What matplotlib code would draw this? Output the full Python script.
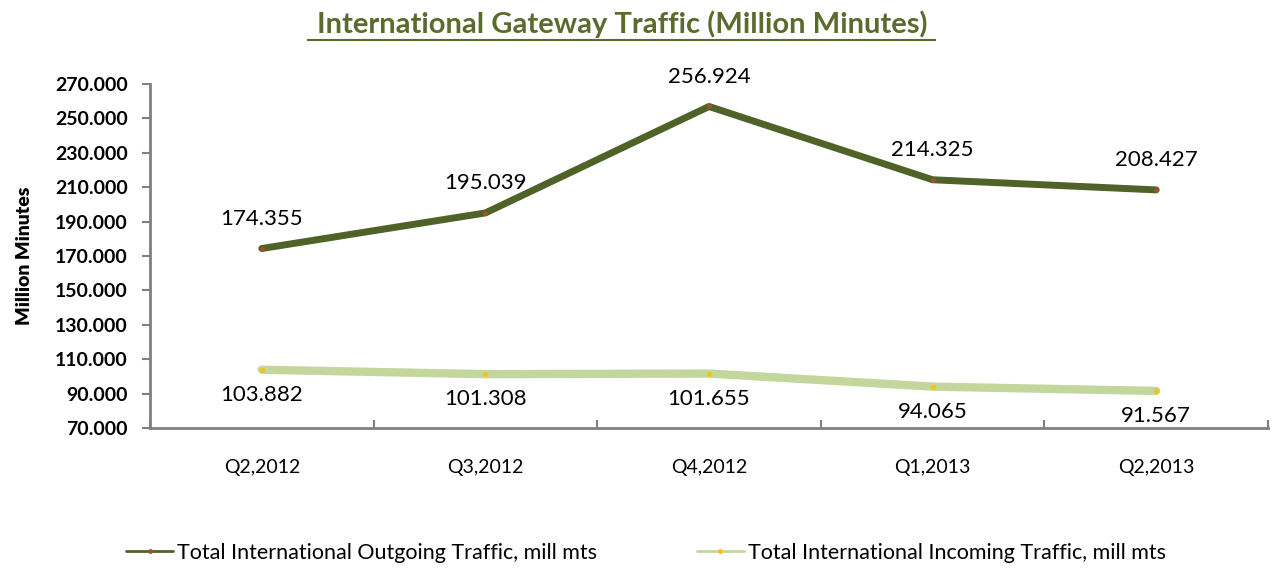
import numpy as np
import matplotlib
matplotlib.use("Agg")
import matplotlib.pyplot as plt

quarters = ["Q2,2012", "Q3,2012", "Q4,2012", "Q1,2013", "Q2,2013"]
outgoing = [174.355, 195.039, 256.924, 214.325, 208.427]
incoming = [103.882, 101.308, 101.655, 94.065, 91.567]
yticks = [70, 90, 110, 130, 150, 170, 190, 210, 230, 250, 270]

out_color = "#4f6228"
in_color = "#c3d69b"
font = "Lato"

fig = plt.figure(figsize=(12.73, 5.70), dpi=100)
ax = fig.add_axes([150/1273, 1 - 428/570, 1118/1273, 344/570])

x = np.arange(len(quarters))
ax.plot(x, outgoing, color=out_color, lw=5, solid_capstyle="round",
        marker="o", markersize=2.5, markerfacecolor="#a0522d", markeredgecolor="#a0522d",
        label="Total International Outgoing Traffic, mill mts")
ax.plot(x, incoming, color=in_color, lw=6, solid_capstyle="round",
        marker="o", markersize=2.5, markerfacecolor="#ffc000", markeredgecolor="#ffc000",
        label="Total International Incoming Traffic, mill mts")

for xi, v in zip(x, outgoing):
    ax.annotate(f"{v:.3f}", (xi, v), xytext=(0, 14), textcoords="offset points",
                ha="center", va="bottom", fontsize=16, family=font, color="black")
for xi, v in zip(x, incoming):
    ax.annotate(f"{v:.3f}", (xi, v), xytext=(0, -11), textcoords="offset points",
                ha="center", va="top", fontsize=16, family=font, color="black")

ax.set_xlim(-0.5, len(quarters) - 0.5)
ax.set_ylim(70, 270)
ax.set_yticks(yticks)
ax.set_yticklabels([f"{t:.3f}" for t in yticks], fontsize=14, family=font, fontweight="bold")
ax.set_xticks(x)
ax.set_xticklabels(quarters, fontsize=14, family=font)
ax.set_xticks(np.arange(len(quarters) + 1) - 0.5, minor=True)
ax.tick_params(axis="x", which="major", length=0, pad=22)
ax.tick_params(axis="x", which="minor", length=6, color="#808080", width=1.5, direction="in")
ax.tick_params(axis="y", length=6, color="#808080", width=1.5, pad=10)

for s in ["top", "right"]:
    ax.spines[s].set_visible(False)
for s in ["left", "bottom"]:
    ax.spines[s].set_color("#808080")
    ax.spines[s].set_linewidth(2)

ax.set_ylabel("Million Minutes", fontsize=14, family=font, fontweight="heavy")
ax.yaxis.set_label_coords(-0.105, 0.5)

fig.text(0.489, 1 - 24/570, "International Gateway Traffic (Million Minutes)", ha="center", va="center",
         fontsize=21, family=font, fontweight="bold", color="#5a6b2e")
fig.add_artist(plt.Line2D([308/1273, 935/1273], [1 - 40/570] * 2, color="#5a6b2e", lw=1.5))

leg = fig.legend(loc="center", bbox_to_anchor=(646/1273, 1 - 553/570), ncol=2, frameon=False,
                 prop={"family": font, "size": 15.5}, handlelength=2.2, handletextpad=0.2,
                 columnspacing=4.6)
for line in leg.get_lines():
    line.set_linewidth(2)

fig.savefig("out.png", dpi=100)
